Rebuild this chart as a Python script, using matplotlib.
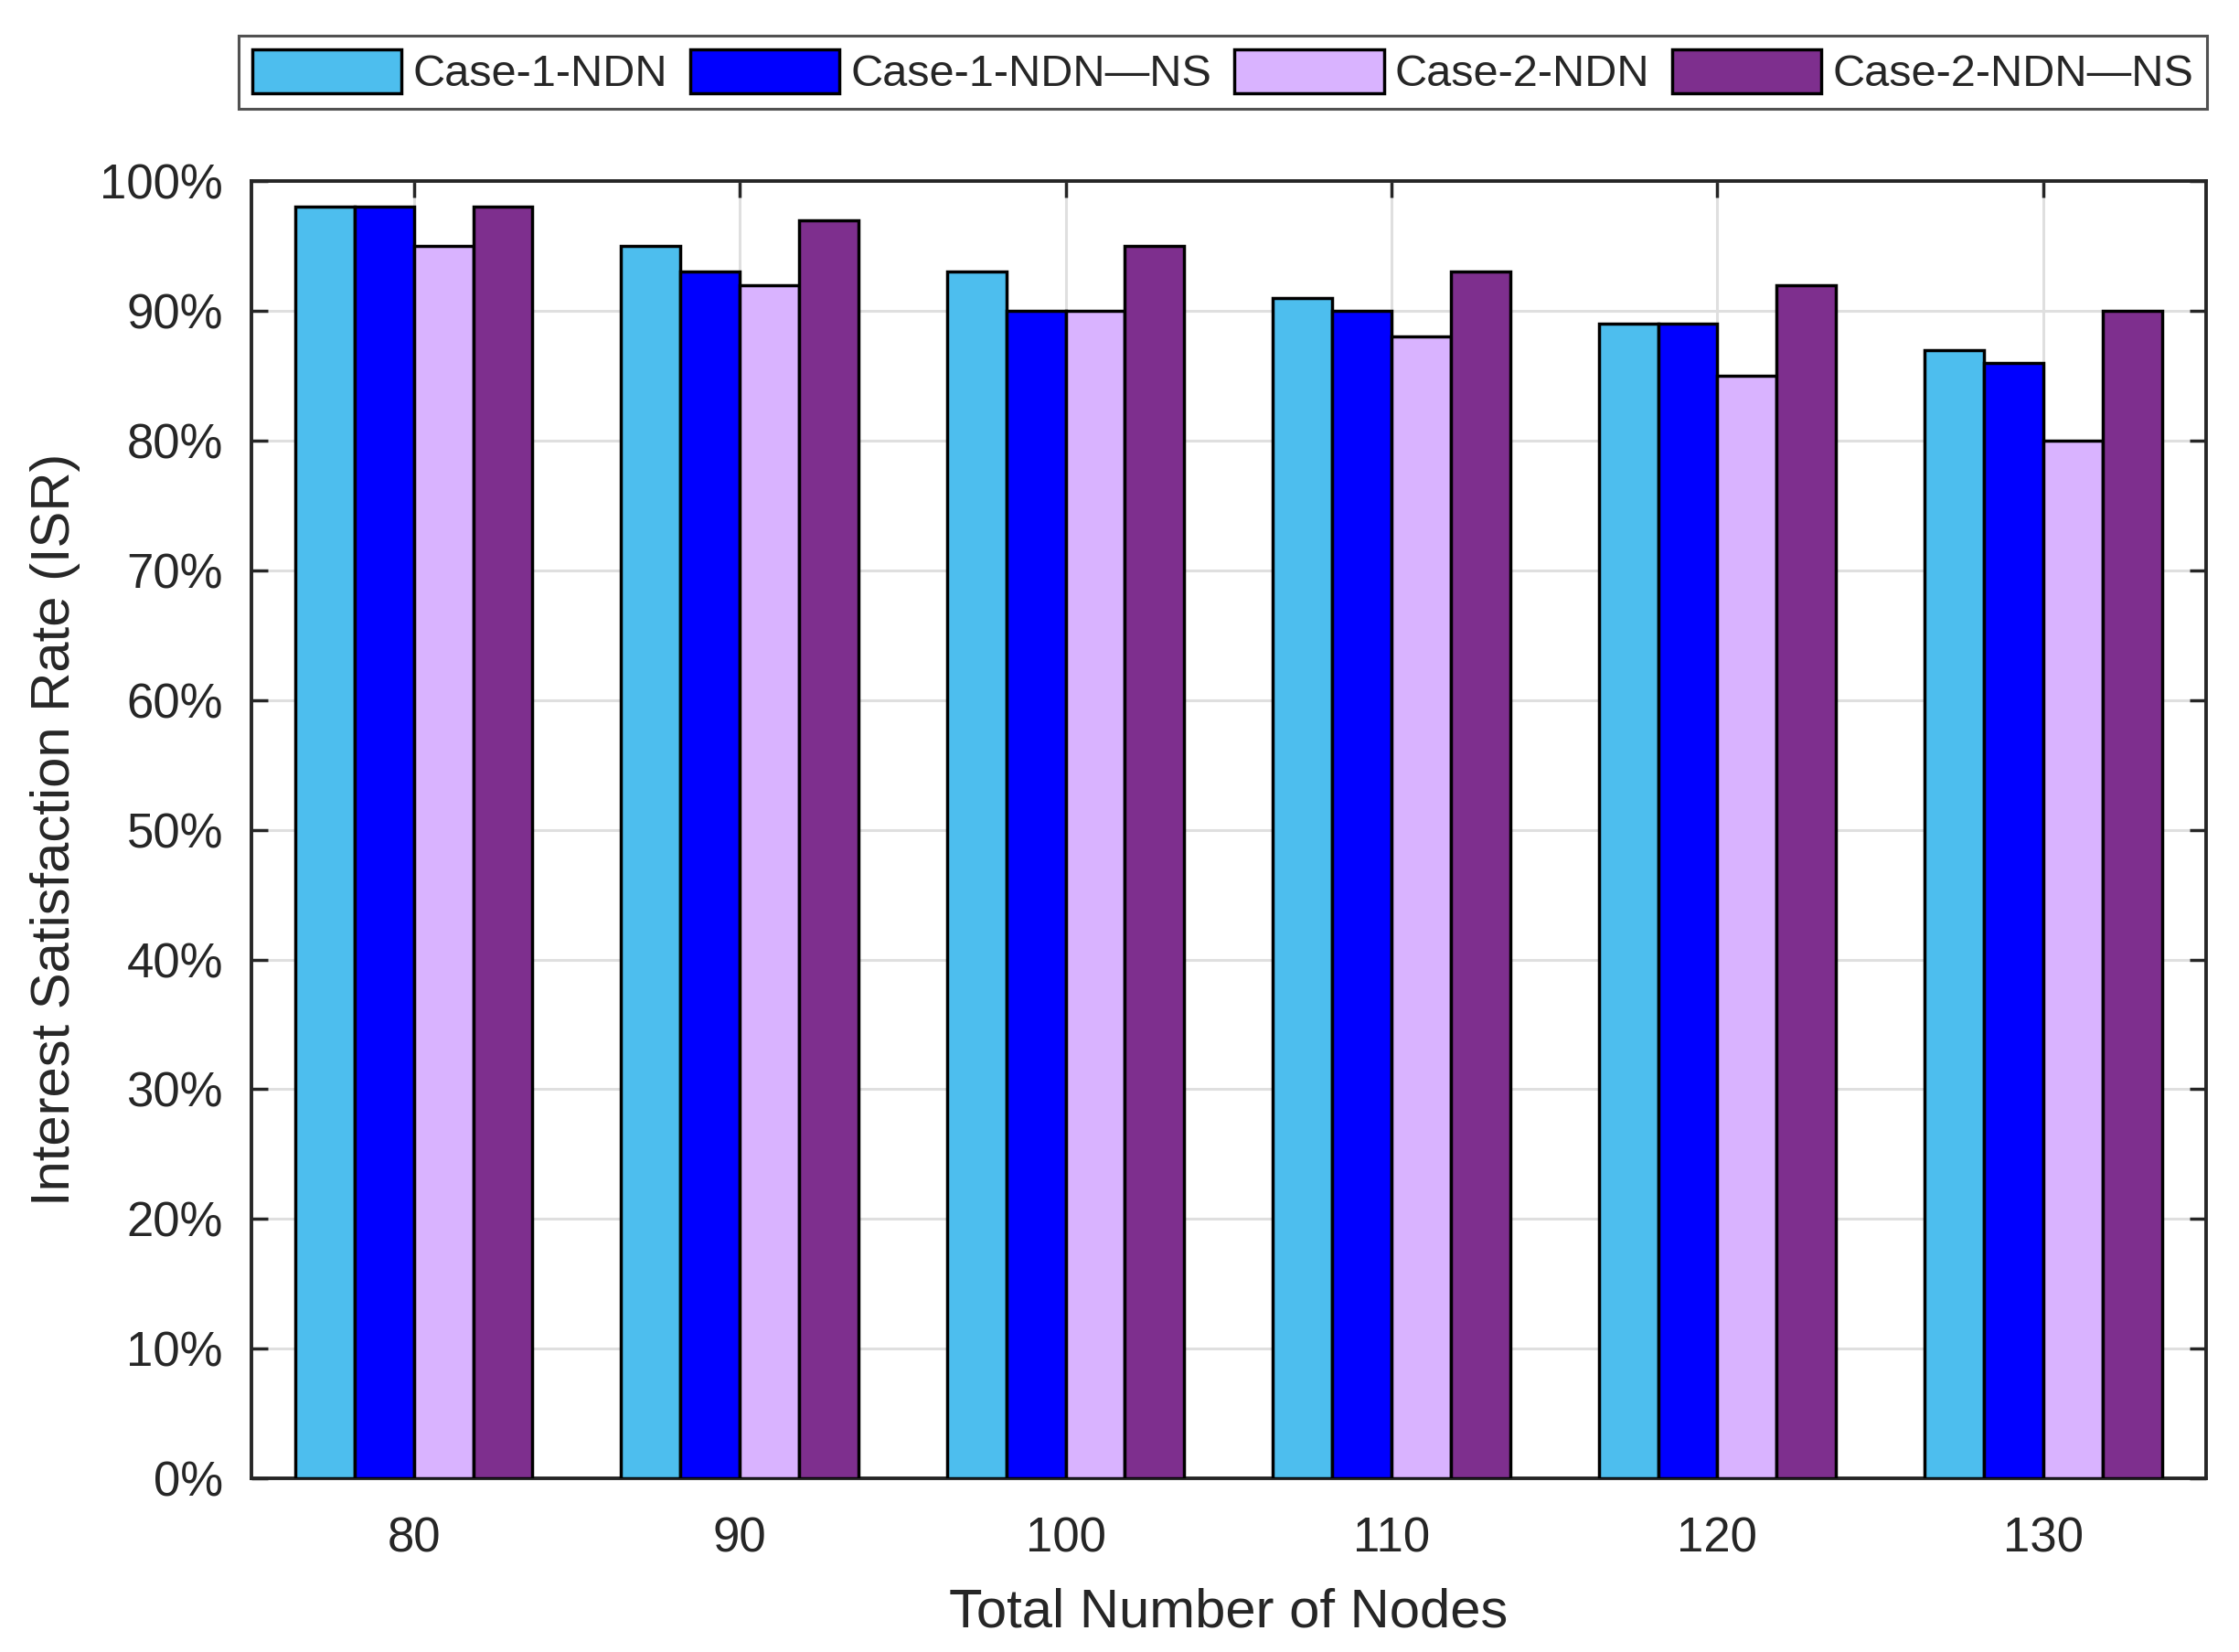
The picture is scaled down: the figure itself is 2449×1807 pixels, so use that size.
import numpy as np
import matplotlib
matplotlib.use("Agg")
import matplotlib.pyplot as plt

plt.rcParams['font.family'] = ['Liberation Sans', 'DejaVu Sans']

# data
nodes = [80, 90, 100, 110, 120, 130]
series_names = ["Case-1-NDN", "Case-1-NDN\u2014NS", "Case-2-NDN", "Case-2-NDN\u2014NS"]
case1_ndn = [98, 95, 93, 91, 89, 87]
case1_ndn_ns = [98, 93, 90, 90, 89, 86]
case2_ndn = [95, 92, 90, 88, 85, 80]
case2_ndn_ns = [98, 97, 95, 93, 92, 90]
colors = ["#4DBEEE", "#0000FF", "#D9B3FF", "#7E2F8E"]

all_series = [case1_ndn, case1_ndn_ns, case2_ndn, case2_ndn_ns]

fig = plt.figure(figsize=(24.49, 18.07), dpi=100)
ax = fig.add_axes([0.1121, 0.1050, 0.8732, 0.7854])

bar_w = 1.82
x = np.array(nodes, dtype=float)
for k, vals in enumerate(all_series):
    offs = (k - 1.5) * bar_w
    ax.bar(x + offs, vals, width=bar_w, color=colors[k], edgecolor="black",
           linewidth=2.5, label=series_names[k], zorder=3)

ax.set_xlim(75, 135)
ax.set_ylim(0, 100)
ax.set_xticks(nodes)
ax.set_xticklabels([str(n) for n in nodes])
ax.set_yticks(np.arange(0, 101, 10))
ax.set_yticklabels([f"{v}%" for v in range(0, 101, 10)])

ax.grid(True, color="#DFDFDF", linewidth=2.2, zorder=0)
ax.set_axisbelow(True)
ax.tick_params(direction="in", length=13, width=2.5, labelsize=38,
               colors="#262626", top=True, right=True)
ax.tick_params(axis="y", pad=22)
ax.tick_params(axis="x", pad=30)
for sp in ax.spines.values():
    sp.set_linewidth(2.8)
    sp.set_color("#262626")

ax.set_xlabel("Total Number of Nodes", fontsize=43, color="#262626", labelpad=20)
ax.set_ylabel("Interest Satisfaction Rate (ISR)", fontsize=43, color="#262626", labelpad=15)

leg = fig.legend(loc="upper left", bbox_to_anchor=(0.1066, 0.9784),
                 ncol=4, fontsize=35, frameon=True, fancybox=False,
                 handlelength=3.37, handleheight=1.14, handletextpad=0.25,
                 columnspacing=0.5, borderaxespad=0, borderpad=0.3)
leg.get_frame().set_edgecolor("#262626")
leg.get_frame().set_linewidth(2.2)
for t in leg.get_texts():
    t.set_color("#262626")

fig.savefig("out.png", dpi=100)
